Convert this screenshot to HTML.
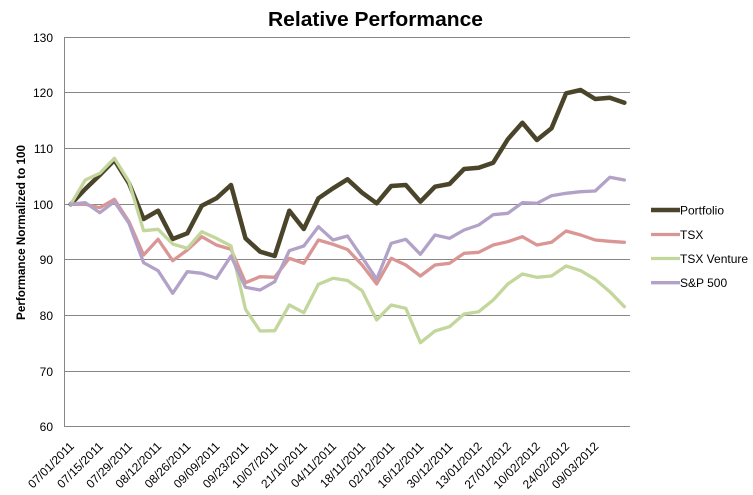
<!DOCTYPE html>
<html>
<head>
<meta charset="utf-8">
<style>
  html, body { margin: 0; padding: 0; background: #ffffff; }
  body { width: 753px; height: 495px; overflow: hidden; }
  svg { display: block; }
  text { font-family: "Liberation Sans", "DejaVu Sans", sans-serif; fill: #000; }
</style>
</head>
<body>
<svg width="753" height="495" viewBox="0 0 753 495" xmlns="http://www.w3.org/2000/svg">
  <rect x="0" y="0" width="753" height="495" fill="#ffffff"/>

  <!-- Title -->
  <text x="375.5" y="26" font-size="20.5" font-weight="bold" text-anchor="middle" textLength="215" lengthAdjust="spacingAndGlyphs">Relative Performance</text>

  <!-- Gridlines -->
  <g stroke="#868686" stroke-width="1" shape-rendering="crispEdges">
    <line x1="64" y1="37.5" x2="630" y2="37.5"/>
    <line x1="64" y1="92.5" x2="630" y2="92.5"/>
    <line x1="64" y1="148.5" x2="630" y2="148.5"/>
    <line x1="64" y1="204.5" x2="630" y2="204.5"/>
    <line x1="64" y1="259.5" x2="630" y2="259.5"/>
    <line x1="64" y1="315.5" x2="630" y2="315.5"/>
    <line x1="64" y1="371.5" x2="630" y2="371.5"/>
    <line x1="64" y1="426.5" x2="630" y2="426.5"/>
    <line x1="64.5" y1="37" x2="64.5" y2="427"/>
  </g>

  <!-- Y tick labels -->
  <g font-size="12" text-anchor="end">
    <text x="53" y="41.8">130</text>
    <text x="53" y="96.8">120</text>
    <text x="53" y="152.8">110</text>
    <text x="53" y="208.8">100</text>
    <text x="53" y="263.8">90</text>
    <text x="53" y="319.8">80</text>
    <text x="53" y="375.8">70</text>
    <text x="53" y="430.8">60</text>
  </g>

  <!-- Y axis title -->
  <text transform="translate(25,232.5) rotate(-90)" font-size="11.5" font-weight="bold" text-anchor="middle" textLength="175" lengthAdjust="spacingAndGlyphs">Performance Normalized to 100</text>

  <!-- X tick labels -->
  <g font-size="12" text-anchor="end">
    <text transform="translate(74.7,447) rotate(-45)">07/01/2011</text>
    <text transform="translate(103.8,447) rotate(-45)">07/15/2011</text>
    <text transform="translate(133.0,447) rotate(-45)">07/29/2011</text>
    <text transform="translate(162.1,447) rotate(-45)">08/12/2011</text>
    <text transform="translate(191.3,447) rotate(-45)">08/26/2011</text>
    <text transform="translate(220.4,447) rotate(-45)">09/09/2011</text>
    <text transform="translate(249.5,447) rotate(-45)">09/23/2011</text>
    <text transform="translate(278.7,447) rotate(-45)">10/07/2011</text>
    <text transform="translate(307.8,447) rotate(-45)">21/10/2011</text>
    <text transform="translate(337.0,447) rotate(-45)">04/11/2011</text>
    <text transform="translate(366.1,447) rotate(-45)">18/11/2011</text>
    <text transform="translate(395.2,447) rotate(-45)">02/12/2011</text>
    <text transform="translate(424.4,447) rotate(-45)">16/12/2011</text>
    <text transform="translate(453.5,447) rotate(-45)">30/12/2011</text>
    <text transform="translate(482.7,447) rotate(-45)">13/01/2012</text>
    <text transform="translate(511.8,447) rotate(-45)">27/01/2012</text>
    <text transform="translate(540.9,447) rotate(-45)">10/02/2012</text>
    <text transform="translate(570.1,447) rotate(-45)">24/02/2012</text>
    <text transform="translate(599.2,447) rotate(-45)">09/03/2012</text>
  </g>

  <!-- Series -->
  <g fill="none" stroke-linejoin="round" stroke-linecap="round">
    <polyline stroke="#4A452A" stroke-width="4.5" points="70.7,204.3 85.3,189 99.8,175 114.4,160 129,183.3 143.6,219 158.1,210.7 172.7,239 187.3,233.3 201.8,205.7 216.4,198.3 231,185 245.5,238.3 260.1,251.7 274.7,256 289.3,210.7 303.8,229 318.4,198.3 333,188.3 347.5,179.3 362.1,192.7 376.7,203.3 391.2,186 405.8,185 420.4,201.7 435,186.7 449.5,184 464.1,169 478.7,167.7 493.2,162.7 507.8,139.3 522.4,122.7 536.9,140 551.5,128.3 566.1,93.3 580.7,90 595.2,99 609.8,97.7 624.4,102.7"/>
    <polyline stroke="#D99694" stroke-width="3.3" points="70.7,204.3 85.3,204.3 99.8,207.7 114.4,199.3 129,221.7 143.6,255 158.1,239.3 172.7,260.7 187.3,250 201.8,236.7 216.4,245 231,249.3 245.5,282.7 260.1,276.7 274.7,277.3 289.3,258.3 303.8,263.3 318.4,240 333,244.3 347.5,249.5 362.1,265 376.7,284 391.2,258.3 405.8,265 420.4,276 435,265 449.5,263.3 464.1,253.3 478.7,252.3 493.2,245 507.8,241.7 522.4,236.7 536.9,245 551.5,242.3 566.1,231 580.7,235 595.2,240 609.8,241.3 624.4,242.3"/>
    <polyline stroke="#C3D69B" stroke-width="3.3" points="70.7,204.3 85.3,180 99.8,173.3 114.4,158.3 129,181.7 143.6,230.7 158.1,229.3 172.7,244 187.3,248.3 201.8,231.7 216.4,238.3 231,246 245.5,309.3 260.1,331 274.7,330.7 289.3,305 303.8,312.7 318.4,284.3 333,278.3 347.5,280.5 362.1,290.7 376.7,320 391.2,305 405.8,308.3 420.4,342.7 435,331 449.5,326.7 464.1,314 478.7,311.7 493.2,300 507.8,284 522.4,274 536.9,277.3 551.5,276 566.1,266 580.7,270.7 595.2,279.3 609.8,291.7 624.4,306.7"/>
    <polyline stroke="#B3A2C7" stroke-width="3.3" points="70.7,204.3 85.3,202.7 99.8,212.7 114.4,201.7 129,223.3 143.6,262.7 158.1,270.7 172.7,293.3 187.3,271.7 201.8,273.3 216.4,278.3 231,256 245.5,287.3 260.1,290 274.7,281.7 289.3,250.7 303.8,246 318.4,226.7 333,240 347.5,236 362.1,257.3 376.7,279.3 391.2,243.3 405.8,239.3 420.4,254.3 435,235 449.5,238.3 464.1,230 478.7,225 493.2,214.7 507.8,213.3 522.4,202.7 536.9,203.3 551.5,195.7 566.1,193.3 580.7,191.7 595.2,191 609.8,177.3 624.4,180"/>
  </g>

  <!-- Legend -->
  <g stroke-linecap="butt">
    <line x1="651" y1="210" x2="680" y2="210" stroke="#4A452A" stroke-width="4.5"/>
    <line x1="651" y1="234.5" x2="680" y2="234.5" stroke="#D99694" stroke-width="3.3"/>
    <line x1="651" y1="258.5" x2="680" y2="258.5" stroke="#C3D69B" stroke-width="3.3"/>
    <line x1="651" y1="282.7" x2="680" y2="282.7" stroke="#B3A2C7" stroke-width="3.3"/>
  </g>
  <g font-size="12">
    <text x="680" y="214.3">Portfolio</text>
    <text x="680" y="238.8">TSX</text>
    <text x="680" y="262.8">TSX Venture</text>
    <text x="680" y="287">S&amp;P 500</text>
  </g>
</svg>
</body>
</html>
